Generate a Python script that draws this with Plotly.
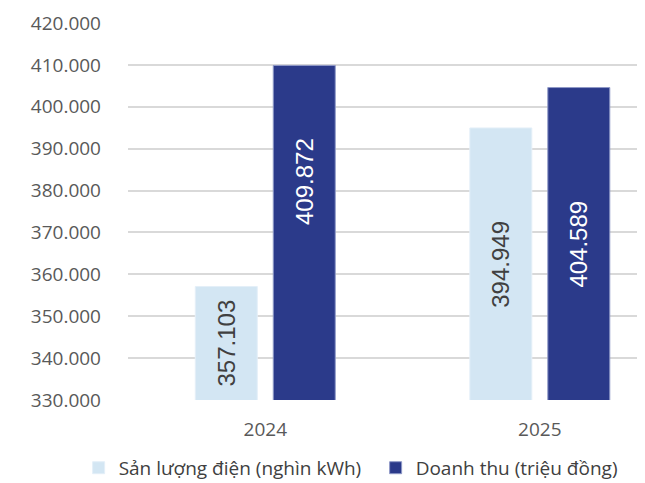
import plotly.graph_objects as go

years = ["2024", "2025"]
san_luong = [357103, 394949]
doanh_thu = [409872, 404589]
series_names = ["Sản lượng điện (nghìn kWh)", "Doanh thu (triệu đồng)"]
y_ticks = [330000, 340000, 350000, 360000, 370000, 380000, 390000, 400000, 410000, 420000]
y_min, y_max = 330000, 420000

def fmt(v):
    return f"{v:,}".replace(",", ".")

fig = go.Figure()
fig.add_trace(go.Bar(
    x=years, y=san_luong, name=series_names[0],
    marker=dict(color="#D3E6F3", line=dict(color="#E4EFF8", width=1)),
))
fig.add_trace(go.Bar(
    x=years, y=doanh_thu, name=series_names[1],
    marker=dict(color="#2B3A8A", line=dict(color="#8F99C7", width=1)),
))

# label placement tweaks (pixels), styling only
label_yshift = {(0, 1): 51}

label_font = "Liberation Sans, Arial, sans-serif"
for s, (series, shift, color) in enumerate([(san_luong, -39, "#404040"), (doanh_thu, 39, "#FFFFFF")]):
    for i, v in enumerate(series):
        fig.add_annotation(
            x=i, y=(y_min + v) / 2, xref="x", yref="y", xshift=shift,
            yshift=label_yshift.get((i, s), 0),
            text=fmt(v), textangle=-90, showarrow=False,
            font=dict(family=label_font, size=24, color=color),
        )

fig.update_layout(
    width=629, height=475,
    margin=dict(l=120, r=0, t=15, b=83, autoexpand=False),
    paper_bgcolor="white", plot_bgcolor="white",
    barmode="group", bargap=0.432, bargroupgap=0.205,
    separators=",.",
    font=dict(family="Open Sans, Noto Sans, sans-serif", color="#595959"),
    showlegend=True,
    legend=dict(orientation="h", x=-0.097, xanchor="left", y=-0.18, yanchor="middle",
                font=dict(size=19, color="#404040"), itemwidth=30, entrywidth=252,
                traceorder="normal"),
)
fig.update_xaxes(
    type="category", range=[-0.5, 1.354], showgrid=False, showline=False,
    ticks="", tickfont=dict(size=19, color="#595959"), ticklabelstandoff=16,
)
fig.update_yaxes(
    range=[y_min, y_max], tickvals=y_ticks, tickformat=",d",
    showgrid=True, gridcolor="#D9D9D9", gridwidth=1.5,
    zeroline=False, showline=False, ticks="",
    tickfont=dict(size=19, color="#595959"), ticklabelstandoff=26,
)

fig.write_html("out.html")
